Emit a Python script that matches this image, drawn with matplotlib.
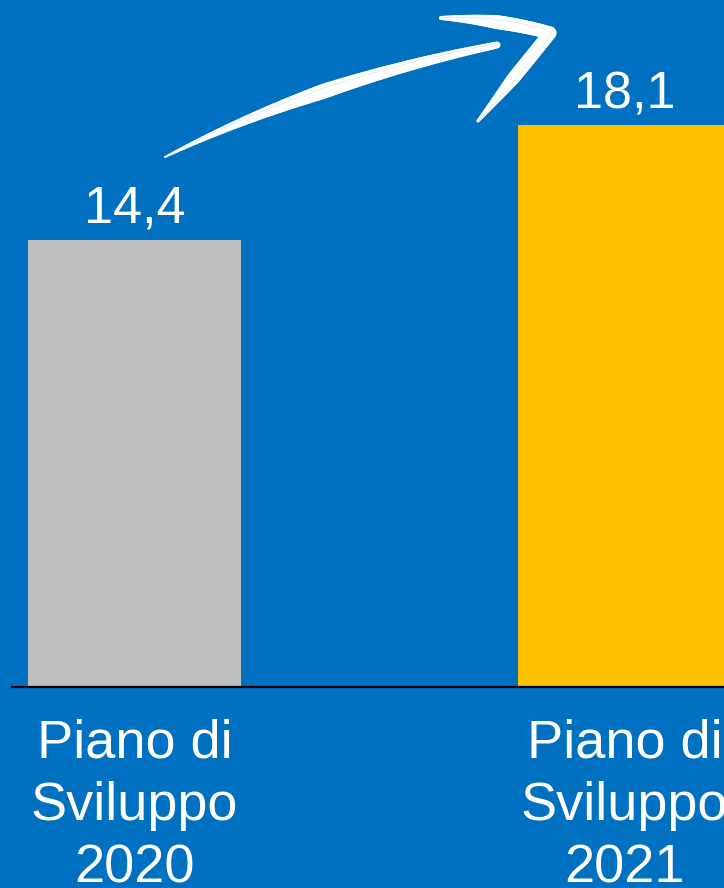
import numpy as np
import matplotlib.pyplot as plt
from matplotlib.collections import LineCollection

plt.rcParams['font.family'] = ['Liberation Sans', 'DejaVu Sans']

categories = ['Piano di\nSviluppo\n2020', 'Piano di\nSviluppo\n2021']
values = [14.4, 18.1]
value_labels = ['14,4', '18,1']
bar_colors = ['#BFBFBF', '#FFC000']

BG = '#0070C0'
W, H = 724, 888

fig = plt.figure(figsize=(W / 100, H / 100), dpi=100, facecolor=BG)

# main bar axes: baseline at y=687px, left edge at x=12px
ax = fig.add_axes([12 / W, (H - 687) / H, 1 - 12 / W, 687 / H])
ax.set_facecolor(BG)
x = np.arange(len(categories))
ax.bar(x, values, width=0.435, color=bar_colors, zorder=2)
ax.set_xlim(-0.25, 1.203)
ax.set_ylim(0, 22.13)

for xi, v, lab in zip(x, values, value_labels):
    ax.text(xi, v + 0.55, lab, ha='center', va='baseline', color='white', fontsize=37.5)

for xi, cat in zip(x, categories):
    ax.text(xi, -1.0, cat, ha='center', va='top', color='white', fontsize=39,
            linespacing=1.32, clip_on=False)

for s in ['top', 'right', 'left']:
    ax.spines[s].set_visible(False)
ax.spines['bottom'].set_color('black')
ax.spines['bottom'].set_linewidth(1.6)
ax.set_xticks([])
ax.set_yticks([])

# overlay in pixel coordinates for the hand-drawn arrow
ov = fig.add_axes([0, 0, 1, 1], facecolor='none')
ov.set_xlim(0, W)
ov.set_ylim(H, 0)
ov.axis('off')


def bezier(p0, p1, p2, n=80):
    t = np.linspace(0, 1, n)[:, None]
    return (1 - t) ** 2 * np.asarray(p0, float) + 2 * (1 - t) * t * np.asarray(p1, float) \
        + t ** 2 * np.asarray(p2, float)


def brush(pts, w0, wmid, w1):
    # tapered white stroke made of short segments (widths in pixels)
    t = np.linspace(0, 1, len(pts))
    w = np.where(t < 0.5, w0 + (wmid - w0) * t / 0.5, wmid + (w1 - wmid) * (t - 0.5) / 0.5)
    segs = np.stack([pts[:-1], pts[1:]], axis=1)
    lw = 0.5 * (w[:-1] + w[1:]) * 72 / 100
    ov.add_collection(LineCollection(segs, linewidths=lw, colors='white', capstyle='round'))
    # one faint streak for a dry-brush texture
    d = np.gradient(pts, axis=0)
    nrm = np.stack([-d[:, 1], d[:, 0]], axis=1)
    nrm /= np.linalg.norm(nrm, axis=1)[:, None]
    ov.plot(pts[:, 0] - nrm[:, 0] * w * 0.2, pts[:, 1] - nrm[:, 1] * w * 0.2,
            color=BG, lw=0.4, alpha=0.2)


shaft = bezier([165, 157], [315, 82], [497, 45])
brush(shaft, 2, 15, 7)

head1 = bezier([441, 18], [500, 19], [550, 33], n=40)
brush(head1, 4, 14, 13)
head2 = bezier([550, 33], [514, 78], [478, 121], n=40)
brush(head2, 13, 13, 3)

fig.savefig('out.png', dpi=100, facecolor=BG)
